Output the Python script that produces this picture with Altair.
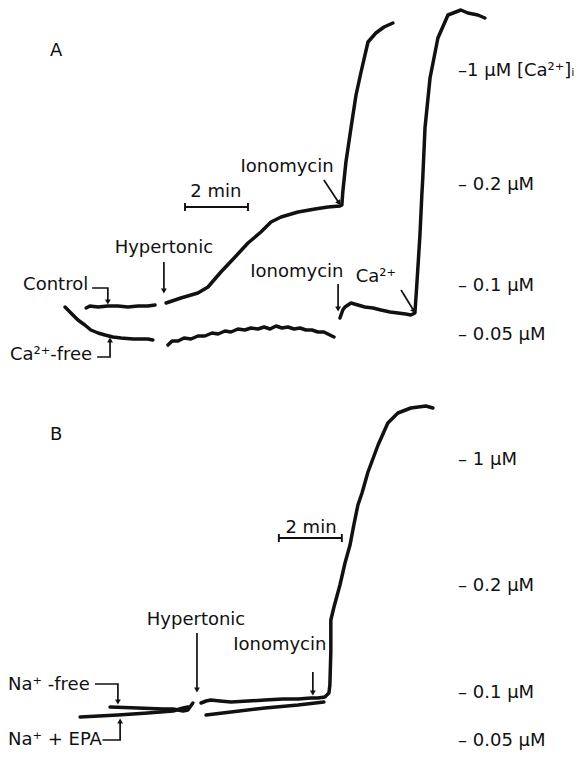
import altair as alt
import pandas as pd

FONT = "DejaVu Sans"
INK = "#111111"
W, H = 571, 371
X_DOM = [0, 18.13]   # time, minutes
Y_DOM = [0, 371]     # fluorescence signal, arbitrary units

# ---------------- Panel A traces ----------------
a_control_t = [2.48, 2.60, 2.86, 3.17, 3.49, 3.81, 4.13, 4.44, 4.67]
a_control_v = [71, 73, 72, 73, 73, 72, 73, 73, 74]

a_hyper_t = [5.02, 5.49, 6.03, 6.35, 6.76, 7.21, 7.62, 8.03, 8.35, 8.67, 9.21, 9.75,
             10.16, 10.54, 10.60, 10.63, 10.73, 10.89, 11.05, 11.21, 11.43, 11.68, 11.94, 12.22]
a_hyper_v = [76, 81, 86, 92, 107, 122, 136, 147, 157, 162, 167, 170,
             172, 173, 174, 187, 217, 251, 284, 307, 337, 346, 352, 356]

a_cafree1_t = [1.81, 2.03, 2.22, 2.44, 2.63, 2.86, 3.08, 3.33, 3.59, 3.97, 4.44, 4.60]
a_cafree1_v = [72, 65, 59, 54, 49, 46, 44, 42, 41, 40, 40, 39]

a_cafree2_t = [5.08, 5.21, 5.40, 5.59, 5.81, 6.03, 6.25, 6.48, 6.67, 6.89, 7.08, 7.30, 7.52, 7.71,
               7.94, 8.13, 8.32, 8.51, 8.70, 8.89, 9.08, 9.27, 9.46, 9.65, 9.84, 10.03, 10.22, 10.35]
a_cafree2_v = [34, 38, 38, 41, 40, 43, 43, 46, 45, 48, 47, 50, 49, 51,
               50, 52, 50, 53, 51, 52, 50, 51, 49, 49, 47, 47, 44, 42]

a_iono2_t = [10.54, 10.63, 10.70, 10.89, 11.11, 11.33, 11.59, 11.84, 12.13, 12.38, 12.63, 12.79, 12.92,
             12.98, 13.08, 13.14, 13.17, 13.24, 13.40, 13.65, 13.97, 14.38, 14.60, 14.92, 15.14]
a_iono2_v = [61, 69, 72, 76, 74, 72, 71, 69, 67, 66, 65, 64, 66,
             94, 144, 184, 201, 251, 301, 341, 364, 369, 366, 364, 361]

# ---------------- Panel B traces ----------------
b_nafree1_t = [3.24, 4.13, 4.92, 5.24, 5.56, 5.71, 5.87]
b_nafree1_v = [43, 42, 41, 41, 39, 40, 47]

b_epa1_t = [2.29, 3.49, 4.44, 5.24, 5.56, 5.71]
b_epa1_v = [33, 35, 37, 39, 42, 43]

b_nafree2_t = [6.13, 6.29, 6.44, 6.73, 7.08, 7.62, 8.16, 8.73, 9.21, 9.62,
               9.84, 10.06, 10.19, 10.22, 10.25, 10.25, 10.35, 10.54, 10.70, 10.86,
               10.98, 11.11, 11.24, 11.43, 11.75, 12.06, 12.38, 12.79, 13.27, 13.49]
b_nafree2_v = [47, 49, 50, 49, 48, 49, 50, 51, 51, 52,
               52, 53, 57, 65, 98, 130, 143, 165, 187, 205,
               225, 245, 257, 278, 305, 327, 337, 342, 344, 342]

b_epa2_t = [6.29, 7.08, 8.16, 9.21, 10.03]
b_epa2_v = [35, 38, 42, 45, 48]

# ---------------- Annotations ----------------
a_center_labels = ["Hypertonic", "2 min", "Ionomycin", "Ionomycin", "Ca²⁺"]
a_center_t = [4.95, 6.60, 8.86, 9.17, 11.68]
a_center_v = [131, 187, 212, 107, 102]

a_left_labels = ["A", "Control", "Ca²⁺-free", "–1 µM [Ca²⁺]ᵢ", "– 0.2 µM", "– 0.1 µM", "– 0.05 µM"]
a_left_t = [1.33, 0.48, 0.06, 14.29, 14.29, 14.29, 14.29]
a_left_v = [328, 94, 24, 308, 194, 93, 44]

a_arrow_t0 = [4.95, 10.48, 10.03, 12.48]
a_arrow_v0 = [117, 95, 199, 89]
a_arrow_t1 = [4.95, 10.48, 10.51, 12.89]
a_arrow_v1 = [88, 70, 176, 68]

a_head_t = [4.95, 10.48, 10.51, 12.89, 3.17, 3.24]
a_head_v = [88, 70, 176, 68, 77, 39]
a_head_ang = [0, 0, 326, 327, 0, 180]

a_bracket_id = ["ctl", "ctl", "ctl", "caf", "caf", "caf"]
a_bracket_t = [2.67, 3.17, 3.17, 2.83, 3.24, 3.24]
a_bracket_v = [91, 91, 78, 22, 22, 37]

a_bar_t = [5.62, 7.62]
a_bar_v = 172

b_center_labels = ["Hypertonic", "Ionomycin", "2 min"]
b_center_t = [5.97, 8.63, 9.62]
b_center_v = [130, 105, 222]

b_left_labels = ["B", "Na⁺ -free", "Na⁺ + EPA", "– 1 µM", "– 0.2 µM", "– 0.1 µM", "– 0.05 µM"]
b_left_t = [1.33, 0.0, 0.0, 14.29, 14.29, 14.29, 14.29]
b_left_v = [315, 65, 10, 290, 164, 57, 9]

b_arrow_t0 = [6.00, 9.68]
b_arrow_v0 = [117, 78]
b_arrow_t1 = [6.00, 9.68]
b_arrow_v1 = [60, 57]

b_head_t = [6.00, 9.68, 3.49, 3.56]
b_head_v = [60, 57, 48, 29]
b_head_ang = [0, 0, 0, 180]

b_bracket_id = ["naf", "naf", "naf", "epa", "epa", "epa"]
b_bracket_t = [2.76, 3.49, 3.49, 3.00, 3.56, 3.56]
b_bracket_v = [66, 66, 50, 10, 10, 27]

b_bar_t = [8.60, 10.60]
b_bar_v = 212


def xs(f="t"):
    return alt.X(f"{f}:Q", scale=alt.Scale(domain=X_DOM, nice=False, zero=False), axis=None)


def ys(f="v"):
    return alt.Y(f"{f}:Q", scale=alt.Scale(domain=Y_DOM, nice=False, zero=False), axis=None)


def lines_df(items):
    rows = []
    for name, ts, vs in items:
        for i, (t, v) in enumerate(zip(ts, vs)):
            rows.append({"name": name, "t": t, "v": v, "i": i})
    return pd.DataFrame(rows)


def text_layer(labels, ts, vs, align):
    df = pd.DataFrame({"label": labels, "t": ts, "v": vs})
    return alt.Chart(df).mark_text(font=FONT, fontSize=18, align=align, baseline="middle",
                                   color=INK).encode(x=xs(), y=ys(), text="label:N")


def panel(traces, centers, lefts, arrows, heads, brackets, bar_t, bar_v):
    tr = alt.Chart(lines_df(traces)).mark_line(strokeWidth=3.5, color=INK, strokeCap="round",
                                                strokeJoin="round").encode(
        x=xs(), y=ys(), detail="name:N", order="i:Q")
    bid, bt, bv = brackets
    br_df = pd.DataFrame({"name": bid, "t": bt, "v": bv, "i": list(range(len(bt)))})
    br = alt.Chart(br_df).mark_line(strokeWidth=1.7, color=INK).encode(
        x=xs(), y=ys(), detail="name:N", order="i:Q")
    t0, v0, t1, v1 = arrows
    ar_df = pd.DataFrame({"t": t0, "v": v0, "t2": t1, "v2": v1})
    ar = alt.Chart(ar_df).mark_rule(strokeWidth=1.7, color=INK).encode(
        x=xs(), y=ys(), x2="t2:Q", y2="v2:Q")
    ht, hv, ha = heads
    hd_df = pd.DataFrame({"t": ht, "v": hv, "ang": ha})
    hd = alt.Chart(hd_df).mark_point(shape="triangle-down", filled=True, size=34, color=INK,
                                     opacity=1).encode(
        x=xs(), y=ys(), angle=alt.Angle("ang:Q", scale=None))
    sb_df = pd.DataFrame({"t": [bar_t[0]], "t2": [bar_t[1]], "v": [bar_v]})
    sb = alt.Chart(sb_df).mark_rule(strokeWidth=1.9, color=INK).encode(
        x=xs(), x2="t2:Q", y=ys())
    tk_df = pd.DataFrame({"t": bar_t, "v": [bar_v - 4] * 2, "v2": [bar_v + 4] * 2})
    tk = alt.Chart(tk_df).mark_rule(strokeWidth=1.9, color=INK).encode(
        x=xs(), y=ys(), y2="v2:Q")
    tc = text_layer(*centers, align="center")
    tl = text_layer(*lefts, align="left")
    return alt.layer(tr, br, ar, hd, sb, tk, tc, tl).properties(width=W, height=H)


pA = panel(
    [("control", a_control_t, a_control_v), ("hyper", a_hyper_t, a_hyper_v),
     ("cafree1", a_cafree1_t, a_cafree1_v), ("cafree2", a_cafree2_t, a_cafree2_v),
     ("iono2", a_iono2_t, a_iono2_v)],
    (a_center_labels, a_center_t, a_center_v),
    (a_left_labels, a_left_t, a_left_v),
    (a_arrow_t0, a_arrow_v0, a_arrow_t1, a_arrow_v1),
    (a_head_t, a_head_v, a_head_ang),
    (a_bracket_id, a_bracket_t, a_bracket_v),
    a_bar_t, a_bar_v)

pB = panel(
    [("nafree1", b_nafree1_t, b_nafree1_v), ("epa1", b_epa1_t, b_epa1_v),
     ("nafree2", b_nafree2_t, b_nafree2_v), ("epa2", b_epa2_t, b_epa2_v)],
    (b_center_labels, b_center_t, b_center_v),
    (b_left_labels, b_left_t, b_left_v),
    (b_arrow_t0, b_arrow_v0, b_arrow_t1, b_arrow_v1),
    (b_head_t, b_head_v, b_head_ang),
    (b_bracket_id, b_bracket_t, b_bracket_v),
    b_bar_t, b_bar_v)

chart = alt.vconcat(pA, pB, spacing=0).properties(
    padding=0, background="white").configure_view(strokeWidth=0, stroke="transparent")

chart.save("out.html", embed_options={"renderer": "svg", "actions": False})
